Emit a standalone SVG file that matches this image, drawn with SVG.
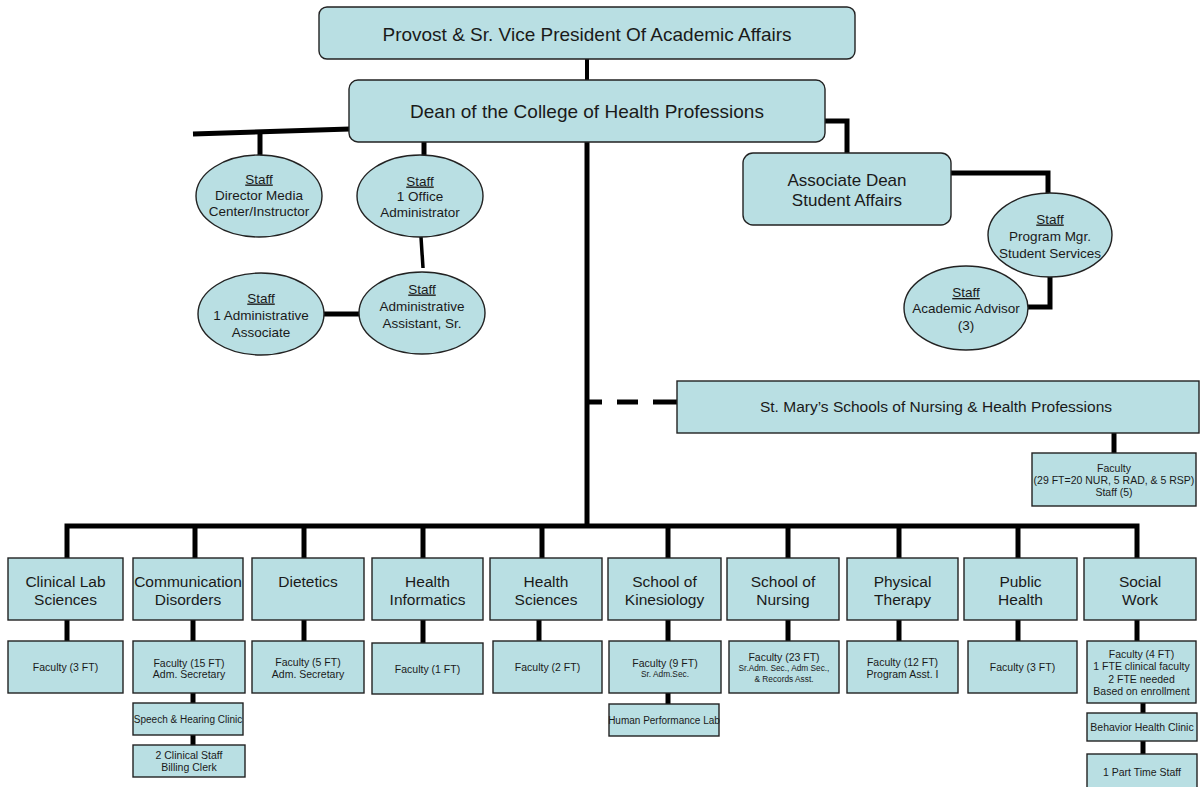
<svg xmlns="http://www.w3.org/2000/svg" width="1201" height="787" viewBox="0 0 1201 787">
<style>
.box{fill:#B9DFE3;stroke:#222;stroke-width:1.4}
.con{fill:none;stroke:#000;stroke-width:5}
.t{font-family:"Liberation Sans",Arial,sans-serif;fill:#1a1a1a;text-anchor:middle}
.big{font-size:19px}
.ad{font-size:17px}
.sm{font-size:15.5px}
.el{font-size:13.5px}
.dp{font-size:15.5px}
.f{font-size:10.5px}
.xs{font-size:8.3px}
.u{text-decoration:underline}
</style>
<rect width="1201" height="787" fill="#fff"/>
<g id="connectors">
<line class="con" x1="587" y1="59" x2="587" y2="80" style="stroke-width:4"/>
<polyline class="con" points="193,134 350,129"/>
<line class="con" x1="260" y1="131" x2="260" y2="156"/>
<line class="con" x1="424" y1="130" x2="424" y2="156"/>
<line class="con" x1="421" y1="237" x2="423" y2="268" style="stroke-width:3.5"/>
<line class="con" x1="322" y1="314" x2="360" y2="314"/>
<polyline class="con" points="825,121 847,121 847,153"/>
<polyline class="con" points="951,173 1048,173 1048,194"/>
<polyline class="con" points="1050,277 1050,307 1027,307"/>
<line class="con" x1="587" y1="142" x2="587" y2="528"/>
<line class="con" x1="589" y1="402" x2="602" y2="402"/>
<line class="con" x1="617" y1="402" x2="638" y2="402"/>
<line class="con" x1="653" y1="402" x2="677" y2="402"/>
<line class="con" x1="1114" y1="433" x2="1114" y2="453"/>
<polyline class="con" points="67,558 67,526 1137,526 1137,558"/>
<line class="con" x1="195" y1="526" x2="195" y2="558"/>
<line class="con" x1="304" y1="526" x2="304" y2="558"/>
<line class="con" x1="423" y1="526" x2="423" y2="558"/>
<line class="con" x1="542" y1="526" x2="542" y2="558"/>
<line class="con" x1="668" y1="526" x2="668" y2="558"/>
<line class="con" x1="788" y1="526" x2="788" y2="558"/>
<line class="con" x1="899" y1="526" x2="899" y2="558"/>
<line class="con" x1="1018" y1="526" x2="1018" y2="558"/>
<line class="con" x1="67" y1="620" x2="67" y2="641"/>
<line class="con" x1="193" y1="620" x2="193" y2="641"/>
<line class="con" x1="304" y1="620" x2="304" y2="641"/>
<line class="con" x1="423" y1="620" x2="423" y2="643"/>
<line class="con" x1="539" y1="620" x2="539" y2="641"/>
<line class="con" x1="668" y1="620" x2="668" y2="641"/>
<line class="con" x1="788" y1="620" x2="788" y2="641"/>
<line class="con" x1="899" y1="620" x2="899" y2="641"/>
<line class="con" x1="1018" y1="620" x2="1018" y2="641"/>
<line class="con" x1="1137" y1="620" x2="1137" y2="641"/>
<line class="con" x1="193" y1="693" x2="193" y2="703"/>
<line class="con" x1="193" y1="735" x2="193" y2="745"/>
<line class="con" x1="668" y1="693" x2="668" y2="704"/>
<line class="con" x1="1143" y1="703" x2="1143" y2="713"/>
<line class="con" x1="1143" y1="741" x2="1143" y2="754"/>
</g>
<g id="provost"><rect class="box" x="319" y="7" width="536" height="52" rx="8"/><text class="t big" x="587" y="41">Provost &amp; Sr. Vice President Of Academic Affairs</text></g>
<g id="dean"><rect class="box" x="349" y="80" width="476" height="62" rx="9"/><text class="t big" x="587" y="118">Dean of the College of Health Professions</text></g>
<g id="staff-media"><ellipse class="box" cx="259" cy="196" rx="63" ry="41"/><text class="t el"><tspan class="u" x="259" y="183.5">Staff</tspan><tspan x="259" y="199.5">Director Media</tspan><tspan x="259" y="215.5">Center/Instructor</tspan></text></g>
<g id="staff-office"><ellipse class="box" cx="420" cy="196" rx="63" ry="41"/><text class="t el"><tspan class="u" x="420" y="185.5">Staff</tspan><tspan x="420" y="200.5">1 Office</tspan><tspan x="420" y="216.5">Administrator</tspan></text></g>
<g id="staff-asst"><ellipse class="box" cx="422" cy="313" rx="63" ry="41"/><text class="t el"><tspan class="u" x="422" y="293.5">Staff</tspan><tspan x="422" y="310.5">Administrative</tspan><tspan x="422" y="327.5">Assistant, Sr.</tspan></text></g>
<g id="staff-assoc"><ellipse class="box" cx="261" cy="314" rx="63" ry="41"/><text class="t el"><tspan class="u" x="261" y="302.5">Staff</tspan><tspan x="261" y="319.5">1 Administrative</tspan><tspan x="261" y="336.5">Associate</tspan></text></g>
<g id="assoc-dean"><rect class="box" x="743" y="153" width="208" height="72" rx="10"/><text class="t ad"><tspan x="847" y="186">Associate Dean</tspan><tspan x="847" y="206">Student Affairs</tspan></text></g>
<g id="staff-progmgr"><ellipse class="box" cx="1050" cy="235" rx="62" ry="42"/><text class="t el"><tspan class="u" x="1050" y="223.5">Staff</tspan><tspan x="1050" y="241">Program Mgr.</tspan><tspan x="1050" y="258">Student Services</tspan></text></g>
<g id="staff-advisor"><ellipse class="box" cx="966" cy="308" rx="62" ry="42"/><text class="t el"><tspan class="u" x="966" y="297">Staff</tspan><tspan x="966" y="312.5">Academic Advisor</tspan><tspan x="966" y="330">(3)</tspan></text></g>
<g id="st-marys"><rect class="box" x="677" y="381" width="522" height="52"/><text class="t sm" x="936" y="412">St. Mary’s Schools of Nursing &amp; Health Professions</text></g>
<g id="st-marys-faculty"><rect class="box" x="1032" y="453" width="164" height="53"/><text class="t f"><tspan x="1114" y="472">Faculty</tspan><tspan x="1114" y="484">(29 FT=20 NUR, 5 RAD, &amp; 5 RSP)</tspan><tspan x="1114" y="496">Staff (5)</tspan></text></g>
<g id="cls"><rect class="box" x="8" y="558" width="115" height="62"/><text class="t dp"><tspan x="65.5" y="586.5">Clinical Lab</tspan><tspan x="65.5" y="604.5">Sciences</tspan></text></g>
<g id="cd"><rect class="box" x="133" y="558" width="110" height="62"/><text class="t dp"><tspan x="188" y="586.5">Communication</tspan><tspan x="188" y="604.5">Disorders</tspan></text></g>
<g id="diet"><rect class="box" x="252" y="558" width="112" height="62"/><text class="t dp" x="308" y="586.5">Dietetics</text></g>
<g id="hi"><rect class="box" x="372" y="558" width="111" height="62"/><text class="t dp"><tspan x="427.5" y="586.5">Health</tspan><tspan x="427.5" y="604.5">Informatics</tspan></text></g>
<g id="hs"><rect class="box" x="490" y="558" width="112" height="62"/><text class="t dp"><tspan x="546" y="586.5">Health</tspan><tspan x="546" y="604.5">Sciences</tspan></text></g>
<g id="kin"><rect class="box" x="608" y="558" width="113" height="62"/><text class="t dp"><tspan x="664.5" y="586.5">School of</tspan><tspan x="664.5" y="604.5">Kinesiology</tspan></text></g>
<g id="nursing"><rect class="box" x="727" y="558" width="112" height="62"/><text class="t dp"><tspan x="783" y="586.5">School of</tspan><tspan x="783" y="604.5">Nursing</tspan></text></g>
<g id="pt"><rect class="box" x="847" y="558" width="111" height="62"/><text class="t dp"><tspan x="902.5" y="586.5">Physical</tspan><tspan x="902.5" y="604.5">Therapy</tspan></text></g>
<g id="ph"><rect class="box" x="964" y="558" width="113" height="62"/><text class="t dp"><tspan x="1020.5" y="586.5">Public</tspan><tspan x="1020.5" y="604.5">Health</tspan></text></g>
<g id="sw"><rect class="box" x="1084" y="558" width="112" height="62"/><text class="t dp"><tspan x="1140" y="586.5">Social</tspan><tspan x="1140" y="604.5">Work</tspan></text></g>
<g id="cls-fac"><rect class="box" x="8" y="641" width="115" height="52"/><text class="t f" x="65.5" y="670.7">Faculty (3 FT)</text></g>
<g id="cd-fac"><rect class="box" x="133" y="641" width="112" height="52"/><text class="t f"><tspan x="189" y="666.5">Faculty (15 FT)</tspan><tspan x="189" y="678">Adm. Secretary</tspan></text></g>
<g id="diet-fac"><rect class="box" x="252" y="641" width="112" height="52"/><text class="t f"><tspan x="308" y="665.5">Faculty (5 FT)</tspan><tspan x="308" y="678">Adm. Secretary</tspan></text></g>
<g id="hi-fac"><rect class="box" x="372" y="643" width="111" height="51"/><text class="t f" x="427.5" y="672.7">Faculty (1 FT)</text></g>
<g id="hs-fac"><rect class="box" x="493" y="641" width="109" height="52"/><text class="t f" x="547.5" y="670.7">Faculty (2 FT)</text></g>
<g id="kin-fac"><rect class="box" x="609" y="641" width="112" height="52"/><text class="t f"><tspan x="665" y="666.5">Faculty (9 FT)</tspan></text><text class="t xs" x="665" y="677">Sr. Adm.Sec.</text></g>
<g id="nursing-fac"><rect class="box" x="729" y="641" width="110" height="52"/><text class="t f" x="784" y="660.7">Faculty (23 FT)</text><text class="t xs"><tspan x="784" y="671">Sr.Adm. Sec., Adm Sec.,</tspan><tspan x="784" y="682">&amp; Records Asst.</tspan></text></g>
<g id="pt-fac"><rect class="box" x="847" y="641" width="111" height="52"/><text class="t f"><tspan x="902.5" y="665.5">Faculty (12 FT)</tspan><tspan x="902.5" y="678">Program Asst. I</tspan></text></g>
<g id="ph-fac"><rect class="box" x="968" y="641" width="109" height="52"/><text class="t f" x="1022.5" y="670.7">Faculty (3 FT)</text></g>
<g id="sw-fac"><rect class="box" x="1087" y="641" width="109" height="62"/><text class="t f"><tspan x="1141.5" y="657.7">Faculty (4 FT)</tspan><tspan x="1141.5" y="670">1 FTE clinical faculty</tspan><tspan x="1141.5" y="682.5">2 FTE needed</tspan><tspan x="1141.5" y="694.5">Based on enrollment</tspan></text></g>
<g id="speech"><rect class="box" x="133" y="703" width="110" height="32"/><text class="t" style="font-size:10px" x="188" y="722.5">Speech &amp; Hearing Clinic</text></g>
<g id="clinical-staff"><rect class="box" x="133" y="745" width="112" height="32"/><text class="t f"><tspan x="189" y="759">2 Clinical Staff</tspan><tspan x="189" y="771">Billing Clerk</tspan></text></g>
<g id="hpl"><rect class="box" x="609" y="704" width="110" height="32"/><text class="t" style="font-size:10px" x="664" y="723.5">Human Performance Lab</text></g>
<g id="bhc"><rect class="box" x="1087" y="713" width="110" height="28"/><text class="t f" x="1142" y="730.7">Behavior Health Clinic</text></g>
<g id="pts"><rect class="box" x="1087" y="754" width="110" height="36"/><text class="t f" x="1142" y="775.5">1 Part Time Staff</text></g>
</svg>
